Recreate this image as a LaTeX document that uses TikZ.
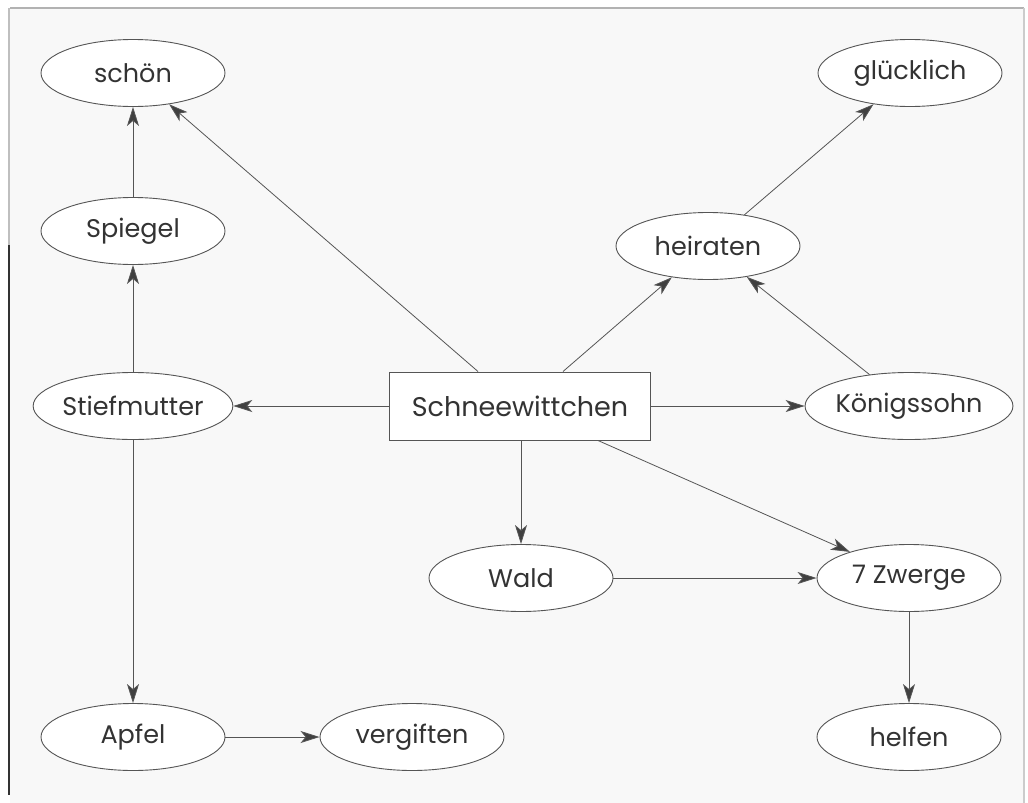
\documentclass[tikz,border=0pt]{standalone}
\usepackage{fontspec}
\setmainfont{Poppins}
\usetikzlibrary{arrows.meta,shapes.geometric}
\definecolor{bg}{HTML}{F8F8F8}
\definecolor{ln}{HTML}{555555}
\definecolor{tx}{HTML}{333333}
\tikzset{
  ov/.style={ellipse, draw=ln, fill=white, line width=0.9pt, minimum width=184pt, minimum height=67pt, inner sep=0pt, text=tx, font=\fontsize{25.5}{28}\selectfont},
  bx/.style={rectangle, draw=ln, fill=white, line width=1pt, minimum width=261pt, minimum height=68pt, inner sep=0pt, text=tx, font=\fontsize{27}{30}\selectfont},
  con/.style={draw=ln, line width=0.8pt, -{Stealth[length=19pt,width=12pt,inset=5pt,fill=black!75]}}
}
\begin{document}
\begin{tikzpicture}[x=1pt,y=-1pt]
\useasboundingbox (0,0) rectangle (1028,803);
\fill[white] (0,0) rectangle (1028,803);
\fill[bg] (10,8) rectangle (1024,803);
\draw[gray!60, line width=1.5pt] (10,8) -- (1024,8);
\draw[gray!40, line width=1.5pt] (1024,8) -- (1024,803);
\draw[black!80, line width=1.5pt] (9,245) -- (9,795);
\draw[gray!50, line width=1.2pt] (9,8) -- (9,245);

\node[ov] (schoen) at (133,73) {schön};
\node[ov] (spiegel) at (133,231) {Spiegel};
\node[ov] (stief) at (133,406) {Stiefmutter};
\node[ov] (apfel) at (133,737) {Apfel};
\node[ov] (vergiften) at (412,737) {vergiften};
\node[bx] (sw) at (520,406) {Schneewittchen};
\node[ov] (wald) at (521,578) {Wald};
\node[ov] (zwerge) at (909,578) {7 Zwerge};
\node[ov] (helfen) at (909,737) {helfen};
\node[ov] (heiraten) at (708,246) {heiraten};
\node[ov] (gluecklich) at (910,73) {glücklich};
\node[ov] (koenig) at (909,406) {Königssohn};

\draw[con] (spiegel) -- (schoen);
\draw[con] (stief) -- (spiegel);
\draw[con] (sw) -- (stief);
\draw[con] (sw.north -| 478,0) -- (schoen);
\draw[con] (sw.north -| 563,0) -- (heiraten);
\draw[con] (heiraten) -- (gluecklich);
\draw[con] (koenig) -- (heiraten);
\draw[con] (sw) -- (koenig);
\draw[con] (sw.south -| wald) -- (wald);
\draw[con] (sw.south -| 598,0) -- (zwerge);
\draw[con] (wald) -- (zwerge);
\draw[con] (zwerge) -- (helfen);
\draw[con] (stief) -- (apfel);
\draw[con] (apfel) -- (vergiften);
\end{tikzpicture}
\end{document}
